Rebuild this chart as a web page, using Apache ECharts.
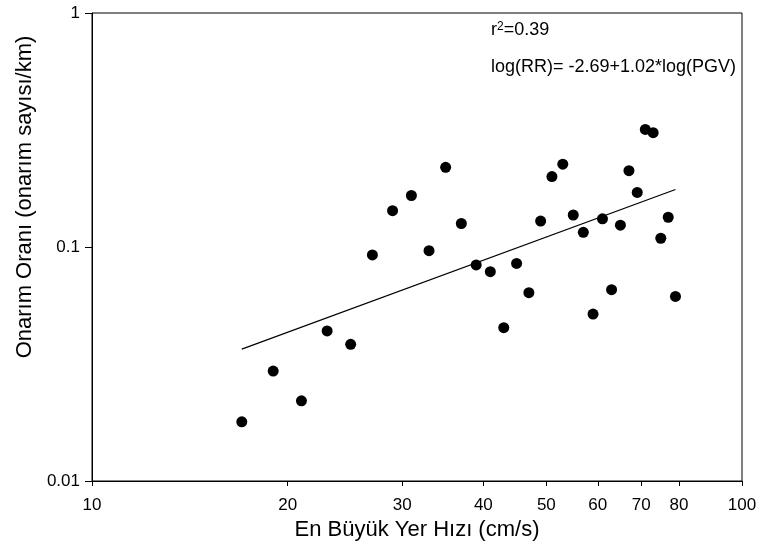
<!DOCTYPE html>
<html>
<head>
<meta charset="utf-8">
<script src="https://cdn.jsdelivr.net/npm/echarts@6/dist/echarts.min.js"></script>
<style>
  html, body { margin: 0; padding: 0; background: #fff; }
  #chart { width: 760px; height: 547px; }
</style>
</head>
<body>
<div id="chart"></div>
<script>
// peak ground velocity (cm/s) and repair rate (repairs/km)
const pgv = [17, 19, 21, 23, 25, 27, 29, 31, 33, 35, 37, 39, 41, 43, 45, 47,
  49, 51, 53, 55, 57, 59, 61, 63, 65, 67, 69, 71, 73, 75, 77, 79];
const repairRate = [0.0179, 0.0295, 0.0220, 0.0438, 0.0384, 0.0925, 0.143, 0.166,
  0.0964, 0.219, 0.126, 0.0838, 0.0784, 0.0452, 0.0851, 0.0638,
  0.129, 0.200, 0.226, 0.137, 0.1155, 0.0517, 0.132, 0.0657,
  0.124, 0.212, 0.171, 0.318, 0.308, 0.109, 0.134, 0.0615];

// regression line end points
const fitX = [17, 79];
const fitY = [0.0366, 0.176];

const xTickValues = [10, 20, 30, 40, 50, 60, 70, 80, 100];

const FONT = '"Liberation Sans", Arial, sans-serif';

const chart = echarts.init(document.getElementById("chart"));

const logTicks = xTickValues.map(v => Math.log10(v));

chart.setOption({
  animation: false,
  grid: {
    left: 92, right: 18, top: 13, bottom: 66,
    show: true, borderColor: "#000", borderWidth: 1,
    outerBoundsMode: "none"
  },
  xAxis: [
    {
      // scale for the data
      type: "log", logBase: 10, min: 10, max: 100,
      position: "top", show: false
    },
    {
      // tick labels 10..100 on the same log spacing
      type: "value", min: 1, max: 2, position: "bottom",
      axisLine: { lineStyle: { color: "#000", width: 1 } },
      axisTick: { customValues: logTicks, length: 5, lineStyle: { color: "#000" } },
      axisLabel: {
        customValues: logTicks,
        formatter: v => String(Math.round(Math.pow(10, v))),
        color: "#000", fontSize: 17, fontFamily: FONT, margin: 16
      },
      splitLine: { show: false },
      name: "En Büyük Yer Hızı (cm/s)",
      nameLocation: "middle", nameGap: 33,
      nameTextStyle: { color: "#000", fontSize: 22, fontFamily: FONT }
    }
  ],
  yAxis: {
    type: "log", logBase: 10, min: 0.01, max: 1,
    axisLine: { show: true, lineStyle: { color: "#000", width: 1 } },
    axisTick: { show: true, length: 7, lineStyle: { color: "#000" } },
    axisLabel: { color: "#000", fontSize: 17, fontFamily: FONT, margin: 12 },
    splitLine: { show: false }
  },
  graphic: [
    {
      type: "text", x: 25, y: 197, rotation: Math.PI / 2,
      style: {
        text: "Onarım Oranı (onarım sayısı/km)",
        font: "22px " + FONT, fill: "#000",
        textAlign: "center", textVerticalAlign: "middle"
      }
    },
    {
      type: "text", x: 491, y: 30,
      style: {
        text: "{b|r}{s|2}{b|=0.39}",
        textVerticalAlign: "middle",
        rich: {
          b: { fontSize: 18, fontFamily: FONT, fill: "#000" },
          s: { fontSize: 12, fontFamily: FONT, fill: "#000", verticalAlign: "top" }
        }
      }
    },
    {
      type: "text", x: 491, y: 67,
      style: {
        text: "log(RR)= -2.69+1.02*log(PGV)",
        font: "18px " + FONT, fill: "#000",
        textVerticalAlign: "middle"
      }
    }
  ],
  series: [
    {
      type: "scatter", xAxisIndex: 0,
      symbol: "circle", symbolSize: 11,
      itemStyle: { color: "#000", opacity: 1 },
      data: pgv.map((x, i) => [x, repairRate[i]])
    },
    {
      type: "line", xAxisIndex: 0,
      symbol: "none",
      lineStyle: { color: "#000", width: 1.2 },
      data: fitX.map((x, i) => [x, fitY[i]])
    }
  ]
});
</script>
</body>
</html>
